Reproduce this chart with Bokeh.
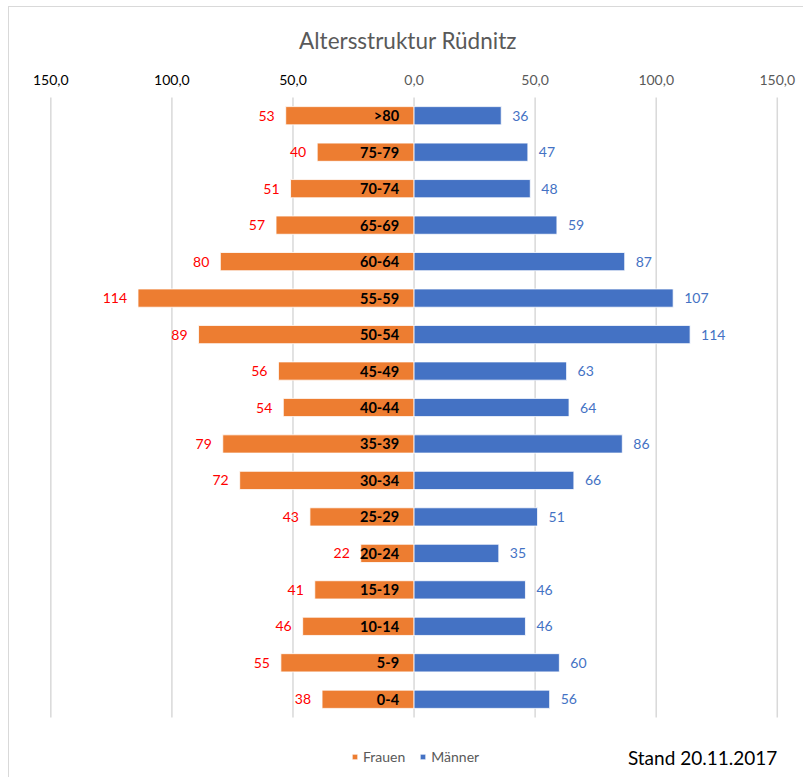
from bokeh.plotting import figure
from bokeh.models import Range1d, ColumnDataSource, Label
from bokeh.core.properties import value
from bokeh.embed import file_html
from bokeh.resources import INLINE

# ---- data (top row first) ----
age_groups = [">80", "75-79", "70-74", "65-69", "60-64", "55-59", "50-54", "45-49",
              "40-44", "35-39", "30-34", "25-29", "20-24", "15-19", "10-14", "5-9", "0-4"]
frauen = [53, 40, 51, 57, 80, 114, 89, 56, 54, 79, 72, 43, 22, 41, 46, 55, 38]
maenner = [36, 47, 48, 59, 87, 107, 114, 63, 64, 86, 66, 51, 35, 46, 46, 60, 56]
x_ticks = [-150, -100, -50, 0, 50, 100, 150]
title_text = "Altersstruktur Rüdnitz"
stand_text = "Stand 20.11.2017"
series_names = ["Frauen", "Männer"]

FONT = "Lato"
ORANGE = "#ED7D31"
BLUE = "#4472C4"
GRID = "#D9D9D9"
GRAY_TXT = "#595959"

n = len(age_groups)
ROWS_H = 620                 # pixel height of the bar rows
row_px = ROWS_H / n
TOP_EXTRA = 37               # room for tick labels above the rows
BOT_EXTRA = 58               # room for legend / note below the rows

ypos = list(range(n - 1, -1, -1))          # top row first
src = ColumnDataSource(dict(
    y=ypos,
    age=age_groups,
    f=[-v for v in frauen],
    m=maenner,
    f_lbl=[str(v) for v in frauen],
    m_lbl=[str(v) for v in maenner],
))

tick_src = ColumnDataSource(dict(
    x=x_ticks,
    lbl=[f"{abs(t):.1f}".replace(".", ",") for t in x_ticks],
    col=["black" if t < 0 else GRAY_TXT for t in x_ticks],
))

p = figure(frame_width=787, frame_height=ROWS_H + TOP_EXTRA + BOT_EXTRA,
           x_range=Range1d(-165, 160),
           y_range=Range1d(-0.5 - BOT_EXTRA / row_px, n - 0.5 + TOP_EXTRA / row_px),
           x_axis_type=None, y_axis_type=None,
           output_backend="svg", toolbar_location=None,
           min_border_left=5, min_border_right=2,
           min_border_top=53, min_border_bottom=2)
p.margin = (6, 0, 0, 8)
p.styles = {"border-top": "1px solid #D9D9D9", "border-left": "1px solid #D9D9D9"}
p.outline_line_color = None

# title
p.title.text = title_text
p.title.align = "center"
p.title.text_font = FONT
p.title.text_font_size = "22.5px"
p.title.text_font_style = "normal"
p.title.text_color = GRAY_TXT
p.title.standoff = 14

# vertical grid lines spanning the bar rows only
p.segment(x0="x", x1="x", y0=-0.5, y1=n - 0.5, source=tick_src,
          line_color=GRID, line_width=1.5)

# tick labels (left half black, right half gray)
p.text(x="x", y=n - 0.5 + 18 / row_px, text="lbl", source=tick_src,
       text_align="center", text_baseline="middle",
       text_font=value(FONT), text_font_size="14px", text_color="col")

# bars
p.hbar(y="y", left=0, right="f", height=0.5, source=src,
       fill_color=ORANGE, line_color="white", line_width=0.8,
       legend_label=series_names[0])
p.hbar(y="y", left=0, right="m", height=0.5, source=src,
       fill_color=BLUE, line_color="white", line_width=0.8,
       legend_label=series_names[1])

# category labels next to the zero axis
p.text(x=0, y="y", text="age", source=src, x_offset=-15,
       text_align="right", text_baseline="middle",
       text_font=value(FONT), text_font_style="bold",
       text_font_size="14.5px", text_color="black")

# value labels
p.text(x="f", y="y", text="f_lbl", source=src, x_offset=-11,
       text_align="right", text_baseline="middle",
       text_font=value(FONT), text_font_size="14px", text_color="#FF0000")
p.text(x="m", y="y", text="m_lbl", source=src, x_offset=11,
       text_align="left", text_baseline="middle",
       text_font=value(FONT), text_font_size="14px", text_color=BLUE)

# legend
lg = p.legend[0]
lg.orientation = "horizontal"
lg.location = (337, 10)
lg.padding = 0
lg.margin = 0
lg.spacing = 14
lg.glyph_width = 7
lg.glyph_height = 7
lg.label_height = 14
lg.label_standoff = 5
lg.label_text_font = FONT
lg.label_text_font_size = "14px"
lg.label_text_color = GRAY_TXT
lg.border_line_color = None
lg.background_fill_alpha = 0

p.add_layout(Label(x=x_ticks[-1], y=-0.5 - 40 / row_px, text=stand_text,
                   text_align="right", text_baseline="middle",
                   text_font=FONT, text_font_size="19px", text_color="black"))

open("out.html", "w").write(file_html(p, INLINE))
